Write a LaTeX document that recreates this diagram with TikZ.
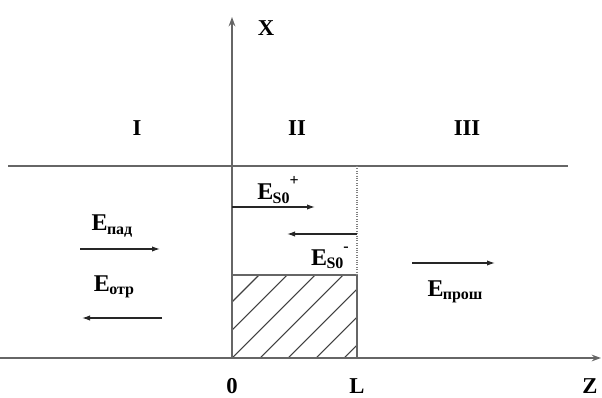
\documentclass[tikz,border=0pt]{standalone}
\usepackage{fontspec}
\setmainfont{Liberation Serif}
\usetikzlibrary{arrows.meta}
\newcommand{\Esub}[1]{E\kern-0.5pt\raisebox{-0.3ex}{\fontsize{12}{12}\selectfont #1}}
\begin{document}
\begin{tikzpicture}[x=0.75pt,y=-0.75pt,
  axisline/.style={draw=black!60, line width=1.5pt},
  vec/.style={draw=black!85, line width=0.9pt, -{Latex[length=6pt,width=4pt]}},
  lab/.style={font=\fontsize{17}{17}\selectfont\bfseries, inner sep=0pt},
  elab/.style={font=\fontsize{18}{18}\selectfont\bfseries, inner sep=0pt}]
\useasboundingbox (0,0) rectangle (602,398);
% named coordinates
\coordinate (O) at (232,358);
\coordinate (Xtip) at (232,17);
\coordinate (Zs) at (0,358);
\coordinate (Ztip) at (601,358);
\coordinate (Ts) at (8,166);
\coordinate (Te) at (568,166);
\coordinate (Lt) at (357,166);
\coordinate (Lm) at (357,275);
\coordinate (Lb) at (357,358);
\coordinate (Om) at (232,275);
% hatching
\begin{scope}
\clip (Om) rectangle (Lb);
\foreach \s in {-84,-56,...,140} {
  \draw[black!75, line width=0.8pt] (232+\s,358) -- ++(120,-120);
}
\end{scope}
% axes
\draw[axisline, -{Stealth[length=7pt,width=5pt]}] (O) -- (Xtip);
\draw[axisline, -{Stealth[length=7pt,width=5pt]}] (Zs) -- (Ztip);
\draw[axisline] (Ts) -- (Te);
\draw[axisline] (Om) -- (Lm) -- (Lb);
\draw[black!50, line width=0.8pt, densely dotted] (Lt) -- (Lm);
% labels
\node[lab] (X) at (266,28) {X};
\node[lab] (Z) at (590,386) {Z};
\node[lab] (zero) at (232,386) {0};
\node[lab] (L) at (357,386) {L};
\node[lab] (R1) at (137,128) {I};
\node[lab] (R2) at (297,128) {II};
\node[lab] (R3) at (467,128) {III};
% vectors
\coordinate (a1) at (80,249); \coordinate (a2) at (160,249);
\draw[vec] (a1) -- (a2);
\node[elab] (Epad) at (112,226) {\Esub{пад}};
\coordinate (b1) at (162,318); \coordinate (b2) at (82,318);
\draw[vec] (b1) -- (b2);
\node[elab] (Eotr) at (114,287) {\Esub{отр}};
\coordinate (c1) at (232,207); \coordinate (c2) at (315,207);
\draw[vec] (c1) -- (c2);
\node[elab] (Esp) at (278,190) {\Esub{S0}\raisebox{1.3ex}{\fontsize{12}{12}\selectfont +}};
\coordinate (d1) at (357,234); \coordinate (d2) at (287,234);
\draw[vec] (d1) -- (d2);
\node[elab] (Esm) at (330,258) {\Esub{S0}\raisebox{1.3ex}{\fontsize{12}{12}\selectfont -}};
\coordinate (e1) at (412,263); \coordinate (e2) at (495,263);
\draw[vec] (e1) -- (e2);
\node[elab] (Epr) at (455,292) {\Esub{прош}};
\end{tikzpicture}
\end{document}
